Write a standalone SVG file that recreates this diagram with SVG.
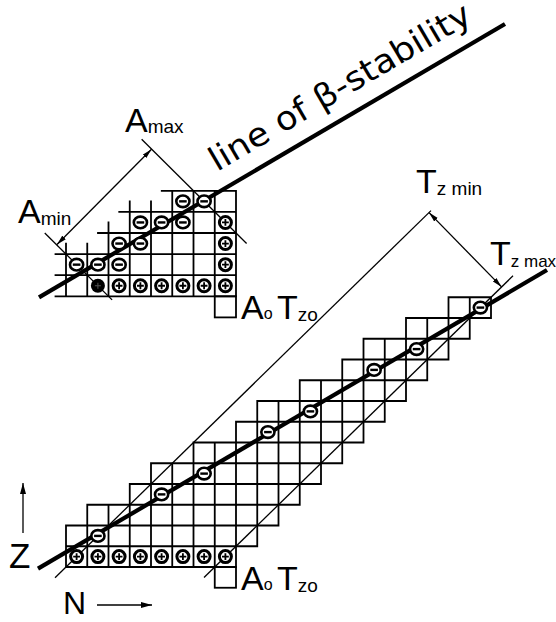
<svg xmlns="http://www.w3.org/2000/svg" xmlns:xlink="http://www.w3.org/1999/xlink" width="556" height="622" viewBox="0 0 556 622">
<style>
.bg{fill:#fff}
.grid{fill:none;stroke:#000;stroke-width:1.8;stroke-linecap:square}
.thin{fill:none;stroke:#000;stroke-width:1.3}
.thick{fill:none;stroke:#000;stroke-width:4.2;stroke-linecap:butt}
.dim{fill:none;stroke:#000;stroke-width:1.3}
.lbl{font-family:"Liberation Sans",Arial,sans-serif;font-size:34px;fill:#000}
.sub{font-size:19px}
.sub2{font-size:16px}
.beta{font-family:"DejaVu Sans","Liberation Sans",sans-serif;font-size:33px;fill:#000}
</style>
<defs>
<marker id="ah" viewBox="0 0 10 6" refX="10" refY="3" markerWidth="10" markerHeight="6" markerUnits="userSpaceOnUse" orient="auto-start-reverse"><path d="M0,0.5 L10,3 L0,5.5 z" fill="#000"/></marker>
<marker id="ax" viewBox="0 0 11 7" refX="11" refY="3.5" markerWidth="11" markerHeight="7" markerUnits="userSpaceOnUse" orient="auto"><path d="M0,0.5 L11,3.5 L0,6.5 z" fill="#000"/></marker>
<g id="m"><ellipse rx="6.6" ry="5.8" fill="#fff" stroke="#000" stroke-width="2.6"/><path d="M-3.8,0H3.8" stroke="#000" stroke-width="2.4"/></g>
<g id="p"><circle r="6" fill="#fff" stroke="#000" stroke-width="3"/><path d="M-3.4,0H3.4M0,-3.4V3.4" stroke="#000" stroke-width="1.8"/></g>
<g id="pf"><circle r="7" fill="#000"/><path d="M-3,0H3M0,-3V3" stroke="#555" stroke-width="1"/></g>
</defs>
<rect class="bg" x="0" y="0" width="556" height="622"/>

<g id="upper-grid">
<path class="grid" d="M55.5,296.3H236M55.5,275.2H236M55.5,254.1H236M98,233H236M119.25,211.9H236M161.75,190.8H236
M66,243.6V296.3M87.25,243.6V296.3M108.5,222.5V296.3M129.75,201.4V296.3M151,201.4V296.3M172.25,190.8V296.3M193.5,190.8V296.3M214.75,190.8V296.3M236,190.8V296.3"/>
<rect class="grid" x="214.75" y="296.3" width="21.25" height="21.1"/>
</g>

<g id="lower-grid">
<path class="grid" d="M66,567H236M66,546.25H257.25M66,525.5H278.5M87.25,504.75H299.75M129.75,484H321M151,463.25H342.25M193.5,442.5H363.5M236,421.75H384.75M257.25,401H406M299.75,380.25H427.25M342.25,359.5H448.5M363.5,338.75H469.75M406,318H491M448.5,297.25H491
M66,525.5V567M87.25,504.75V567M108.5,504.75V567M129.75,484V567M151,463.25V567M172.25,463.25V567M193.5,442.5V567M214.75,442.5V567M236,421.75V567M257.25,401V546.25M278.5,401V525.5M299.75,380.25V504.75M321,380.25V484M342.25,359.5V463.25M363.5,338.75V442.5M384.75,338.75V421.75M406,318V401M427.25,318V380.25M448.5,297.25V359.5M469.75,297.25V338.75M491,297.25V318"/>
<rect class="grid" x="214.75" y="567" width="21.25" height="20.75"/>
</g>

<g id="connectors">
<line class="thin" x1="44.75" y1="233" x2="112.1" y2="299.9"/>
<line class="thin" x1="141.65" y1="139.3" x2="246.6" y2="243.55"/>
<line class="dim" x1="57" y1="244.5" x2="151.5" y2="149.3" marker-start="url(#ah)" marker-end="url(#ah)"/>
<line class="thin" x1="55" y1="577.8" x2="431" y2="210.6"/>
<line class="thin" x1="204" y1="577.5" x2="513" y2="275.8"/>
<line class="dim" x1="429" y1="212.6" x2="501.6" y2="286.9" marker-start="url(#ah)" marker-end="url(#ah)"/>
<line class="thick" x1="39" y1="297.4" x2="505" y2="24"/>
<line class="thick" x1="38" y1="568.6" x2="547" y2="270"/>
<line class="dim" x1="23" y1="533" x2="23" y2="483" marker-end="url(#ax)"/>
<line class="dim" x1="97" y1="605" x2="152" y2="605" marker-end="url(#ax)"/>
</g>

<g id="upper-symbols">
<use xlink:href="#m" x="76.6" y="264.65"/>
<use xlink:href="#m" x="97.9" y="264.65"/>
<use xlink:href="#m" x="119.1" y="264.65"/>
<use xlink:href="#m" x="119.1" y="243.55"/>
<use xlink:href="#m" x="140.4" y="243.55"/>
<use xlink:href="#m" x="140.4" y="222.45"/>
<use xlink:href="#m" x="161.6" y="222.45"/>
<use xlink:href="#m" x="182.9" y="222.45"/>
<use xlink:href="#m" x="182.9" y="201.35"/>
<use xlink:href="#m" x="204.1" y="201.35"/>
<use xlink:href="#pf" x="97.9" y="285.75"/>
<use xlink:href="#p" x="119.1" y="285.75"/>
<use xlink:href="#p" x="140.4" y="285.75"/>
<use xlink:href="#p" x="161.6" y="285.75"/>
<use xlink:href="#p" x="182.9" y="285.75"/>
<use xlink:href="#p" x="204.1" y="285.75"/>
<use xlink:href="#p" x="225.4" y="285.75"/>
<use xlink:href="#p" x="225.4" y="264.65"/>
<use xlink:href="#p" x="225.4" y="243.55"/>
<use xlink:href="#p" x="225.4" y="222.45"/>
</g>

<g id="lower-symbols">
<use xlink:href="#p" x="76.6" y="556.6"/>
<use xlink:href="#p" x="97.9" y="556.6"/>
<use xlink:href="#p" x="119.1" y="556.6"/>
<use xlink:href="#p" x="140.4" y="556.6"/>
<use xlink:href="#p" x="161.6" y="556.6"/>
<use xlink:href="#p" x="182.9" y="556.6"/>
<use xlink:href="#p" x="204.1" y="556.6"/>
<use xlink:href="#p" x="225.4" y="556.6"/>
<use xlink:href="#m" x="97.9" y="535.9"/>
<use xlink:href="#m" x="161.6" y="494.4"/>
<use xlink:href="#m" x="204.1" y="473.6"/>
<use xlink:href="#m" x="267.9" y="432.1"/>
<use xlink:href="#m" x="310.4" y="411.4"/>
<use xlink:href="#m" x="374.1" y="369.9"/>
<use xlink:href="#m" x="416.6" y="349.1"/>
<use xlink:href="#m" x="480.4" y="307.6"/>
</g>

<g id="labels">
<text class="beta" x="217" y="172" transform="rotate(-30.4 217 172)" textLength="298" lengthAdjust="spacingAndGlyphs">line of β-stability</text>
<text class="lbl" x="18" y="223">A<tspan class="sub" dy="1.5">min</tspan></text>
<text class="lbl" x="125" y="131.5">A<tspan class="sub" dy="1.5">max</tspan></text>
<text class="lbl" x="416" y="193">T<tspan class="sub" dy="1.5">z min</tspan></text>
<text class="lbl" x="490" y="265">T<tspan dy="1.5" style="font-size:17px">z max</tspan></text>
<text class="lbl" x="241" y="319">A<tspan class="sub2">o</tspan><tspan x="277">T</tspan><tspan class="sub" dy="2">zo</tspan></text>
<text class="lbl" x="241" y="590">A<tspan class="sub2">o</tspan><tspan x="277">T</tspan><tspan class="sub" dy="2">zo</tspan></text>
<text class="lbl" x="9" y="568" style="font-size:35px">Z</text>
<text class="lbl" x="63" y="614" style="font-size:32px">N</text>
</g>
</svg>
